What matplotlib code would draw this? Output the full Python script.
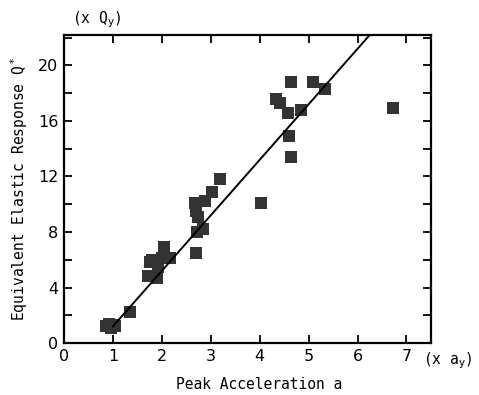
import numpy as np
import matplotlib.pyplot as plt
from matplotlib.ticker import MultipleLocator

# peak acceleration (x a_y) and equivalent elastic response (x Q_y)
accel = [0.85, 0.92, 0.97, 1.02, 1.05, 1.35,
         1.72, 1.75, 1.8, 1.9, 1.92, 2.0, 2.05, 2.16,
         2.67, 2.69, 2.71, 2.74, 2.84, 2.88, 3.02, 3.18, 2.70,
         4.02, 4.33, 4.41, 4.57, 4.59, 4.65, 4.65, 4.84, 5.10, 5.33, 6.73]
response = [1.2, 1.4, 1.1, 1.3, 1.2, 2.2,
            4.8, 5.85, 6.0, 4.7, 5.5, 6.1, 6.9, 6.1,
            10.1, 9.5, 8.0, 9.1, 8.2, 10.2, 10.9, 11.8, 6.5,
            10.1, 17.6, 17.3, 16.6, 14.9, 13.4, 18.8, 16.8, 18.8, 18.3, 16.9]

# fitted line Q* = 4 (a - 0.7)
fit_slope = 4.0
fit_x0 = 0.7
fit_x = [1.0, 6.4]

mono = 'DejaVu Sans Mono'

fig = plt.figure(figsize=(4.79, 3.95), dpi=100)
ax = fig.add_axes([0.1336, 0.1316, 0.766, 0.78])

ax.plot(accel, response, 's', color='#333333', markersize=8, markeredgewidth=0)
fx = np.array(fit_x)
ax.plot(fx, fit_slope * (fx - fit_x0), color='black', lw=1.4)

ax.set_xlim(0, 7.5)
ax.set_ylim(0, 22.2)
ax.xaxis.set_major_locator(MultipleLocator(1))
ax.yaxis.set_major_locator(MultipleLocator(4))
ax.yaxis.set_minor_locator(MultipleLocator(2))
ax.tick_params(which='both', direction='in', top=True, right=True,
               length=6, width=1.3, labelsize=11.5, pad=4)
for sp in ax.spines.values():
    sp.set_linewidth(1.6)

ax.set_xlabel('Peak Acceleration a', family=mono, fontsize=10.5, va='center')
ax.xaxis.set_label_coords(0.531, -0.136)
ax.set_ylabel('Equivalent Elastic Response Q$^*$', family=mono, fontsize=10.5, labelpad=6)
fig.text(0.150, 0.950, '(x Q$_\\mathrm{y}$)', family=mono, fontsize=10.5, va='center')
fig.text(0.883, 0.086, '(x a$_\\mathrm{y}$)', family=mono, fontsize=10.5, va='center')

fig.savefig('out.png', dpi=100)
